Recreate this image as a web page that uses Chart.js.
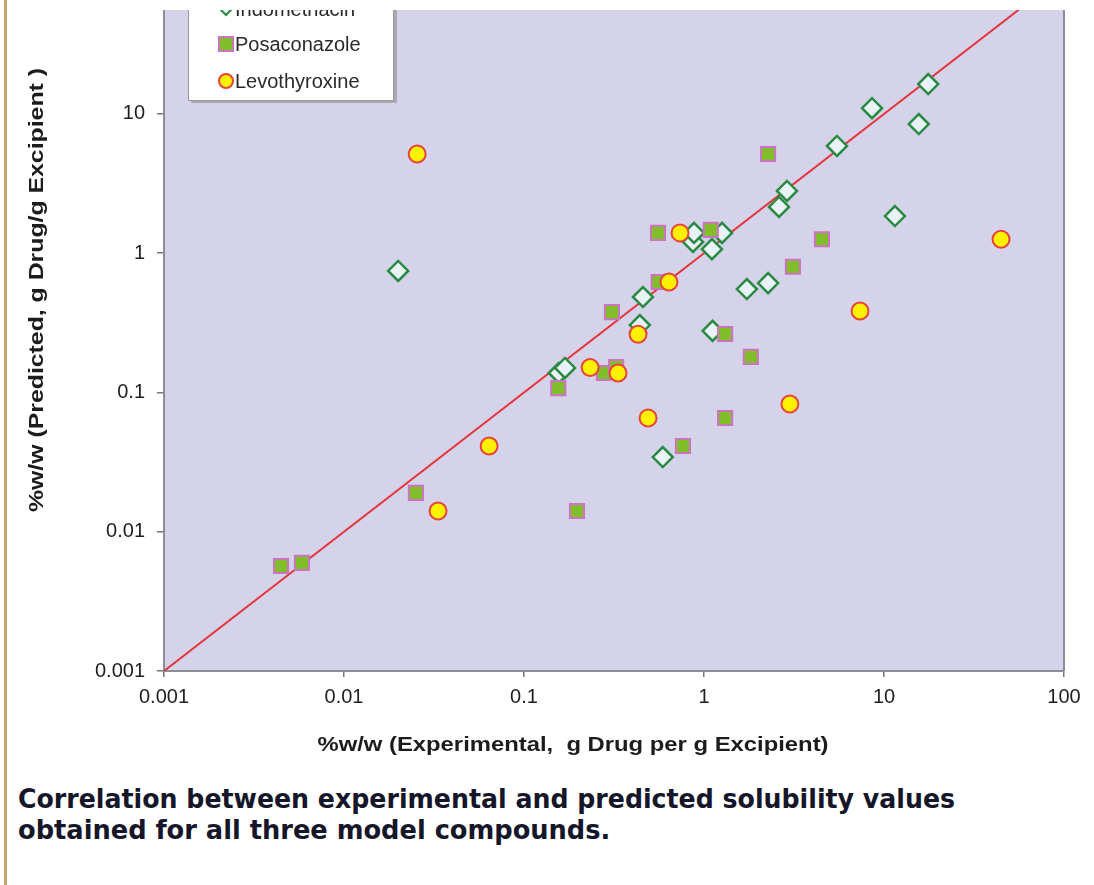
<!DOCTYPE html>
<html>
<head>
<meta charset="utf-8">
<title>Experimental vs predicted solubility</title>
<script src="https://cdn.jsdelivr.net/npm/chart.js@4.4.0/dist/chart.umd.min.js"></script>
<style>
  html, body { margin: 0; padding: 0; background: #fff; }
  body { width: 1094px; height: 885px; position: relative; overflow: hidden; font-family: Arial, "Liberation Sans", sans-serif; }
  #edge { position: absolute; left: 4px; top: 0; width: 3px; height: 885px; background: #c9a36e; }
  #wrap { position: absolute; left: 0; top: 10px; width: 1094px; height: 760px; }
  #caption { position: absolute; left: 18px; top: 783px; color: #16162a; font-weight: bold; font-size: 27px; line-height: 31px;
             font-family: "Liberation Sans Narrow", "DejaVu Sans Condensed", Arial, sans-serif; }
  #caption span { display: inline-block; white-space: nowrap; transform-origin: 0 50%; }
</style>
</head>
<body>
<div id="edge"></div>
<div id="wrap"><canvas id="solChart" width="1094" height="760"></canvas></div>
<div id="caption">
  <span id="cap1">Correlation between experimental and predicted solubility values</span><br>
  <span id="cap2">obtained for all three model compounds.</span>
</div>
<script>
// Axis ticks
const xTickValues = [0.001, 0.01, 0.1, 1, 10, 100];
const xTickLabels = ['0.001', '0.01', '0.1', '1', '10', '100'];
const yTickValues = [0.001, 0.01, 0.1, 1, 10];
const yTickLabels = ['0.001', '0.01', '0.1', '1', '10'];

const xTitle = '%w/w (Experimental,  g Drug per g Excipient)';
const yTitle = '%w/w (Predicted, g Drug/g Excipient )';

// Indomethacin (experimental, predicted)
const indoX = [0.020, 0.156, 0.169, 0.44, 0.458, 0.59, 0.869, 0.88, 1.107, 1.26, 1.116, 1.73, 2.27, 2.61, 2.89, 5.48, 8.58, 15.6, 17.6, 11.5];
const indoY = [0.746, 0.138, 0.150, 0.305, 0.485, 0.0344, 1.205, 1.40, 1.07, 1.40, 0.277, 0.553, 0.61, 2.15, 2.80, 5.89, 11.0, 8.47, 16.4, 1.85];

// Posaconazole
const posaX = [0.00447, 0.00584, 0.0251, 0.197, 0.155, 0.308, 0.278, 0.325, 0.764, 1.31, 1.31, 1.82, 0.555, 1.09, 0.56, 2.27, 4.52, 3.12];
const posaY = [0.00568, 0.00597, 0.019, 0.0141, 0.1076, 0.378, 0.138, 0.152, 0.0413, 0.0656, 0.263, 0.180, 1.40, 1.47, 0.622, 5.16, 1.26, 0.80];

// Levothyroxine
const levoX = [0.0255, 0.0333, 0.064, 0.233, 0.333, 0.43, 0.489, 0.639, 0.736, 3.0, 7.36, 44.7];
const levoY = [5.16, 0.0141, 0.0413, 0.151, 0.138, 0.262, 0.0656, 0.622, 1.40, 0.0826, 0.385, 1.26];

// y = x reference line
const lineX = [0.001, 100];
const lineY = [0.001, 100];

const xMin = 0.001, xMax = 100;
const yMin = 0.001, yMax = 55.8;

function toPoints(xs, ys) {
    return xs.map((x, i) => ({ x: x, y: ys[i] }));
}

// Lavender plot background and right-hand frame
const plotBackground = {
    id: 'plotBackground',
    beforeDraw(chart) {
        const { ctx, chartArea: a } = chart;
        ctx.save();
        ctx.fillStyle = '#d4d3e9';
        ctx.fillRect(a.left, a.top, a.right - a.left, a.bottom - a.top);
        ctx.strokeStyle = '#8c8c99';
        ctx.lineWidth = 2;
        ctx.beginPath();
        ctx.moveTo(a.right, a.top);
        ctx.lineTo(a.right, a.bottom);
        ctx.stroke();
        ctx.restore();
    }
};

function fitText(ctx, text, cx, cy, width, angle) {
    ctx.save();
    ctx.translate(cx, cy);
    ctx.rotate(angle);
    const w = ctx.measureText(text).width;
    ctx.scale(width / w, 1);
    ctx.fillText(text, 0, 0);
    ctx.restore();
}

// Axis titles and the boxed legend in the top-left corner
const overlay = {
    id: 'overlay',
    afterDraw(chart) {
        const ctx = chart.ctx;
        ctx.save();
        ctx.fillStyle = '#1c1c1c';
        ctx.textAlign = 'center';
        ctx.textBaseline = 'middle';
        ctx.font = 'bold 20px Arial, "Liberation Sans", sans-serif';
        fitText(ctx, xTitle, 573, 735, 511, 0);
        ctx.font = 'bold 21px Arial, "Liberation Sans", sans-serif';
        fitText(ctx, yTitle, 37, 280, 444, -Math.PI / 2);

        // legend box
        ctx.fillStyle = '#a9a9b4';
        ctx.fillRect(191, -40, 206, 133);
        ctx.fillStyle = '#ffffff';
        ctx.fillRect(188, -40, 206, 130);
        ctx.strokeStyle = '#9a9a9a';
        ctx.lineWidth = 1;
        ctx.strokeRect(188.5, -40, 205, 130.5);

        const rows = [
            { ds: 2, y: -1, size: 6 },
            { ds: 1, y: 34, size: 10 },
            { ds: 0, y: 71, size: 7 }
        ];
        ctx.textAlign = 'left';
        ctx.font = '20px Arial, "Liberation Sans", sans-serif';
        rows.forEach(r => {
            const ds = chart.data.datasets[r.ds];
            ctx.fillStyle = ds.backgroundColor;
            ctx.strokeStyle = ds.borderColor;
            ctx.lineWidth = 2;
            Chart.helpers.drawPoint(ctx, { pointStyle: ds.pointStyle, rotation: 0, radius: r.size, borderWidth: 2 }, 226, r.y);
            ctx.fillStyle = '#2a2a2a';
            ctx.fillText(ds.label, 235, r.y + 1);
        });
        ctx.restore();
    }
};

function init() {
    const ctx = document.getElementById('solChart').getContext('2d');
    new Chart(ctx, {
        type: 'scatter',
        data: {
            datasets: [
                {
                    label: 'Levothyroxine',
                    data: toPoints(levoX, levoY),
                    pointStyle: 'circle',
                    pointRadius: 8.5,
                    backgroundColor: '#fff100',
                    borderColor: '#e8423c',
                    borderWidth: 2
                },
                {
                    label: 'Posaconazole',
                    data: toPoints(posaX, posaY),
                    pointStyle: 'rect',
                    pointRadius: 10,
                    backgroundColor: '#82bd2c',
                    borderColor: '#cc74c0',
                    borderWidth: 2
                },
                {
                    label: 'Indomethacin',
                    data: toPoints(indoX, indoY),
                    pointStyle: 'rectRot',
                    pointRadius: 10,
                    backgroundColor: '#e9f3f7',
                    borderColor: '#2a8a44',
                    borderWidth: 2.5
                },
                {
                    label: 'y = x',
                    data: toPoints(lineX, lineY),
                    showLine: true,
                    pointRadius: 0,
                    borderColor: '#e5363e',
                    borderWidth: 2
                }
            ]
        },
        options: {
            responsive: false,
            devicePixelRatio: 1,
            animation: false,
            layout: { autoPadding: false, padding: { top: 0, right: 30, left: 0, bottom: 0 } },
            plugins: {
                legend: { display: false },
                tooltip: { enabled: false }
            },
            scales: {
                x: {
                    type: 'logarithmic',
                    min: xMin,
                    max: xMax,
                    afterBuildTicks: s => { s.ticks = xTickValues.map(v => ({ value: v })); },
                    afterFit: s => { s.height = 99; },
                    ticks: {
                        callback: (v, i) => xTickLabels[i],
                        autoSkip: false,
                        maxRotation: 0,
                        padding: 8,
                        color: '#1e1e1e',
                        font: { size: 20 }
                    },
                    grid: { drawOnChartArea: false, tickLength: 6, color: '#777', lineWidth: 1.5 },
                    border: { color: '#8c8c99', width: 2 }
                },
                y: {
                    type: 'logarithmic',
                    min: yMin,
                    max: yMax,
                    afterBuildTicks: s => { s.ticks = yTickValues.map(v => ({ value: v })); },
                    afterFit: s => { s.width = 164; s.paddingTop = 0; s.paddingBottom = 0; },
                    ticks: {
                        callback: (v, i) => yTickLabels[i],
                        autoSkip: false,
                        padding: 12,
                        color: '#1e1e1e',
                        font: { size: 20 }
                    },
                    grid: { drawOnChartArea: false, tickLength: 7, color: '#777', lineWidth: 1.5 },
                    border: { color: '#8c8c99', width: 2 }
                }
            }
        },
        plugins: [plotBackground, overlay]
    });

    // stretch caption lines to the reference widths
    [['cap1', 937], ['cap2', 592]].forEach(([id, w]) => {
        const el = document.getElementById(id);
        el.style.transform = 'scaleX(' + (w / el.offsetWidth) + ')';
    });
}

document.addEventListener('DOMContentLoaded', init);
</script>
</body>
</html>
